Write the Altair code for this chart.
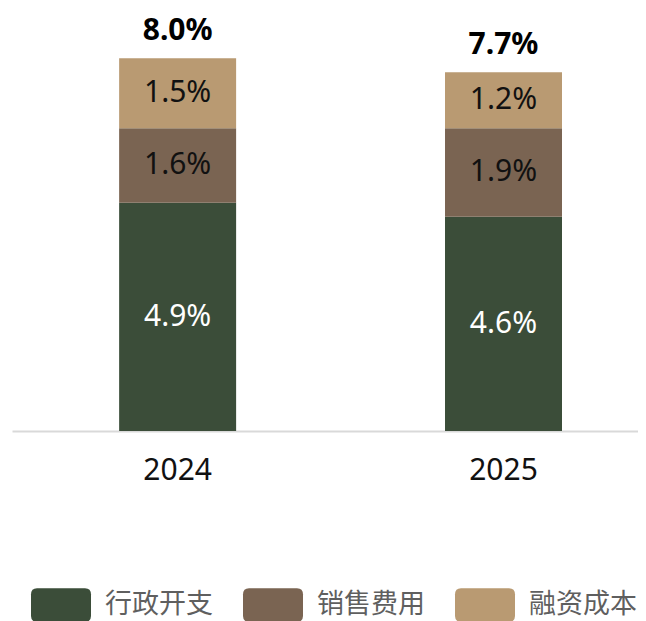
import altair as alt
import pandas as pd

years = ["2024", "2025"]
categories = ["行政开支", "销售费用", "融资成本"]
admin = [4.9, 4.6]
sales = [1.6, 1.9]
finance = [1.5, 1.2]
totals = [8.0, 7.7]
colors = ["#3b4d39", "#7a6452", "#b99a72"]

rows = []
for i, y in enumerate(years):
    for k, (c, vals) in enumerate(zip(categories, [admin, sales, finance])):
        rows.append({"year": y, "cat": c, "value": vals[i], "order": k,
                     "label": f"{vals[i]:.1f}%"})
df = pd.DataFrame(rows)
tot = pd.DataFrame({"year": years, "total": totals,
                    "label": [f"{t:.1f}%" for t in totals]})

xscale = alt.Scale(domain=years, paddingInner=0.641, paddingOuter=0.281, align=0.585)
yscale = alt.Scale(domain=[0, 9.08], nice=False, zero=True)

symbol = ("M -0.8,-0.56 L 0.8,-0.56 Q 1,-0.56 1,-0.36 L 1,0.36 Q 1,0.56 0.8,0.56 "
          "L -0.8,0.56 Q -1,0.56 -1,0.36 L -1,-0.36 Q -1,-0.56 -0.8,-0.56 Z")

base = alt.Chart(df)

bars = base.mark_bar().encode(
    x=alt.X("year:N", scale=xscale, sort=years,
            axis=alt.Axis(title=None, labelAngle=0, ticks=False, labelFontSize=30,
                          labelFont="Noto Sans", labelColor="#111", labelPadding=24,
                          domainColor="#d9d9d9", domainWidth=2)),
    y=alt.Y("sum(value):Q", scale=yscale, stack="zero", axis=None),
    color=alt.Color("cat:N", sort=categories,
                    scale=alt.Scale(domain=categories, range=colors),
                    legend=alt.Legend(title=None, orient="none", direction="horizontal",
                                      legendX=19, legendY=567,
                                      symbolType=symbol, symbolSize=3600,
                                      symbolStrokeWidth=0, symbolOpacity=1,
                                      labelFont="Noto Sans CJK SC", labelFontSize=27,
                                      labelColor="#5f5f5f", labelOffset=14,
                                      columnPadding=30, labelLimit=200)),
    order=alt.Order("order:Q", sort="ascending"),
)

seg = base.transform_stack(
    stack="value", groupby=["year"], as_=["y0", "y1"],
    sort=[alt.SortField("order", order="ascending")]
).transform_calculate(mid="(datum.y0 + datum.y1) / 2").mark_text(
    font="Noto Sans", fontSize=30, baseline="middle"
).encode(
    x=alt.X("year:N", scale=xscale, sort=years),
    y=alt.Y("mid:Q", scale=yscale),
    text="label:N",
    color=alt.condition(alt.datum.cat == "行政开支", alt.value("white"), alt.value("#111")),
)

top = alt.Chart(tot).mark_text(
    font="Noto Sans", fontSize=30, fontWeight="bold", baseline="bottom", dy=-12, color="#000"
).encode(
    x=alt.X("year:N", scale=xscale, sort=years),
    y=alt.Y("total:Q", scale=yscale),
    text="label:N",
)

chart = alt.layer(bars, seg, top).properties(
    width=626, height=423,
    autosize=alt.AutoSizeParams(type="none"),
    padding={"left": 4, "top": 0, "right": 0, "bottom": 190},
).configure_view(stroke=None)

chart.save("out.html", embed_options={"renderer": "svg", "actions": False})
